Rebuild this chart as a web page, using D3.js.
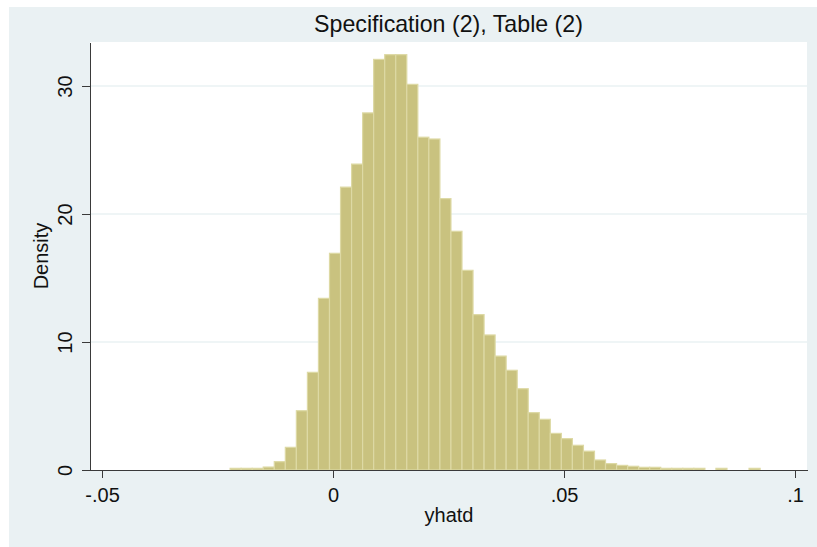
<!DOCTYPE html>
<html lang="en">
<head>
  <meta charset="UTF-8" />
  <title>Specification (2), Table (2)</title>
  <script src="https://d3js.org/d3.v7.min.js"></script>
  <style>
    body {
      margin: 0;
      padding: 0;
      background: #ffffff;
      font-family: "Liberation Sans", Arial, sans-serif;
    }
    .bar {
      fill: #c9c27f;
      stroke: #ddd9a4;
      stroke-width: 1.2px;
    }
    .grid line {
      stroke: #eaf2f3;
      stroke-width: 1.5px;
    }
    .axis path,
    .axis line {
      stroke: #3a3a3a;
      stroke-width: 1px;
      shape-rendering: crispEdges;
    }
    .axis text {
      font-family: "Liberation Sans", Arial, sans-serif;
      font-size: 20px;
      fill: #111;
    }
    .title {
      font-size: 23.2px;
      fill: #111;
      text-anchor: middle;
    }
    .axis-title {
      font-size: 20px;
      fill: #111;
      text-anchor: middle;
    }
  </style>
</head>
<body>
  <svg id="chart" width="817" height="547"></svg>

  <script>
    // histogram of yhatd: bins start at binStart, each binWidth wide
    const binStart = -0.02229;
    const binWidth = 0.00239;
    const densities = [
      0.13, 0.13, 0.13, 0.23, 0.65, 1.77, 4.63, 7.63, 13.41, 16.93,
      22.1, 23.9, 27.9, 32.08, 32.45, 32.45, 30.13, 26.0, 25.86, 21.2,
      18.65, 15.6, 12.14, 10.55, 8.9, 7.79, 6.35, 4.48, 3.96, 2.86,
      2.45, 1.93, 1.47, 0.78, 0.5, 0.36, 0.29, 0.21, 0.21, 0.13,
      0.13, 0.13, 0.13, 0, 0.13, 0, 0, 0.13
    ];

    const xTicks = [-0.05, 0, 0.05, 0.1];
    const xTickLabels = ["-.05", "0", ".05", ".1"];
    const yTicks = [0, 10, 20, 30];
    const yGrid = [10, 20, 30];

    const titleText = "Specification (2), Table (2)";
    const xTitle = "yhatd";
    const yTitle = "Density";

    const svg = d3.select("#chart");

    // graph region (light bluish gray) and plot region (white)
    svg.append("rect")
      .attr("x", 9).attr("y", 7)
      .attr("width", 817 - 9).attr("height", 547 - 7)
      .attr("fill", "#eaf1f3");

    const plot = { left: 90, right: 807, top: 42, bottom: 470 };

    svg.append("rect")
      .attr("x", plot.left).attr("y", plot.top)
      .attr("width", plot.right - plot.left)
      .attr("height", plot.bottom - plot.top)
      .attr("fill", "#ffffff");

    const x = d3.scaleLinear().domain([-0.05262, 0.10258]).range([plot.left, plot.right]);
    const y = d3.scaleLinear().domain([0, 33.44]).range([plot.bottom, plot.top]);

    // horizontal grid lines
    svg.append("g")
      .attr("class", "grid")
      .selectAll("line")
      .data(yGrid)
      .enter()
      .append("line")
      .attr("x1", plot.left)
      .attr("x2", plot.right)
      .attr("y1", d => y(d))
      .attr("y2", d => y(d));

    // bars
    const bins = densities.map((d, i) => ({
      x0: binStart + i * binWidth,
      x1: binStart + (i + 1) * binWidth,
      v: d
    })).filter(b => b.v > 0);

    svg.append("g")
      .selectAll(".bar")
      .data(bins)
      .enter()
      .append("rect")
      .attr("class", "bar")
      .attr("x", d => x(d.x0))
      .attr("width", d => x(d.x1) - x(d.x0))
      .attr("y", d => y(d.v))
      .attr("height", d => y(0) - y(d.v));

    // y axis with rotated labels
    const yAxis = svg.append("g")
      .attr("class", "axis")
      .attr("transform", `translate(${plot.left},0)`)
      .call(d3.axisLeft(y).tickValues(yTicks).tickSize(8).tickSizeOuter(0).tickFormat(d3.format("d")));

    yAxis.selectAll("text")
      .attr("x", null)
      .attr("dy", null)
      .attr("text-anchor", "middle")
      .attr("transform", "translate(-18,0) rotate(-90)");

    // x axis
    const xAxis = svg.append("g")
      .attr("class", "axis")
      .attr("transform", `translate(0,${plot.bottom})`)
      .call(d3.axisBottom(x).tickValues(xTicks).tickSize(8).tickSizeOuter(0)
        .tickFormat((d, i) => xTickLabels[i]));

    xAxis.selectAll("text")
      .attr("y", 32)
      .attr("dy", null);

    // titles
    svg.append("text")
      .attr("class", "title")
      .attr("x", 448.5)
      .attr("y", 32)
      .text(titleText);

    svg.append("text")
      .attr("class", "axis-title")
      .attr("x", 449)
      .attr("y", 522)
      .text(xTitle);

    svg.append("text")
      .attr("class", "axis-title")
      .attr("transform", `translate(48,${(plot.top + plot.bottom) / 2}) rotate(-90)`)
      .text(yTitle);
  </script>
</body>
</html>
